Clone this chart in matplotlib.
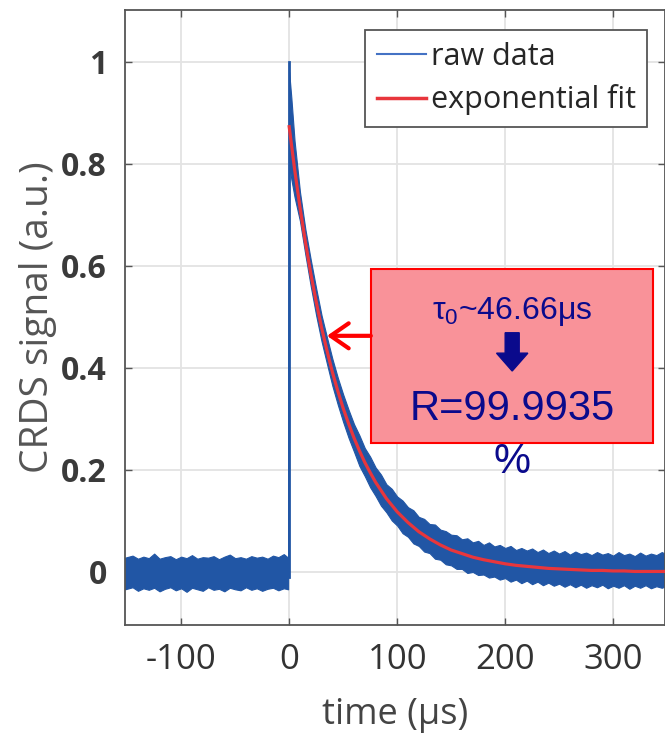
import matplotlib.pyplot as plt
from matplotlib.lines import Line2D
from matplotlib.patches import Rectangle, FancyArrow

# raw signal drawn as its noise envelope
t_base = [-152, -145, -140, -135, -130, -125, -120, -115, -110, -105, -100,
          -95, -90, -85, -80, -75, -70, -65, -60, -55, -50, -45, -40, -35,
          -30, -25, -20, -15, -10, -5, -1]
base_hi = [0.028, 0.032, 0.026, 0.030, 0.027, 0.036, 0.026, 0.029, 0.031, 0.025,
           0.030, 0.027, 0.033, 0.026, 0.029, 0.028, 0.031, 0.025, 0.030, 0.034,
           0.027, 0.029, 0.026, 0.031, 0.028, 0.030, 0.026, 0.032, 0.029, 0.035,
           0.028]
base_lo = [-0.034, -0.030, -0.037, -0.032, -0.035, -0.031, -0.038, -0.033, -0.030,
           -0.036, -0.032, -0.039, -0.031, -0.034, -0.037, -0.030, -0.035, -0.033,
           -0.038, -0.031, -0.034, -0.036, -0.030, -0.035, -0.032, -0.037, -0.033,
           -0.031, -0.036, -0.032, -0.034]

t_decay = [0, 2, 5] + list(range(10, 351, 5))
decay_hi = [0.98, 0.93, 0.845,
            0.745, 0.672, 0.612, 0.556, 0.503, 0.460, 0.418, 0.381, 0.348, 0.318,
            0.290, 0.268, 0.243, 0.226, 0.205, 0.191, 0.172, 0.163, 0.148,
            0.140, 0.127, 0.121, 0.108, 0.104, 0.094, 0.093, 0.083, 0.080, 0.073,
            0.072, 0.064, 0.066, 0.058, 0.061, 0.053, 0.058, 0.050, 0.053, 0.047,
            0.051, 0.043, 0.047, 0.042, 0.046, 0.039, 0.044, 0.037, 0.042, 0.036,
            0.041, 0.034, 0.040, 0.035, 0.038, 0.033, 0.039, 0.034, 0.037, 0.032,
            0.039, 0.033, 0.036, 0.031, 0.038, 0.032, 0.036, 0.033, 0.039, 0.034]
decay_lo = [0.80, 0.77, 0.735,
            0.688, 0.622, 0.560, 0.503, 0.452, 0.408, 0.365, 0.328, 0.294, 0.263,
            0.236, 0.208, 0.188, 0.166, 0.149, 0.130, 0.117, 0.101, 0.091,
            0.076, 0.069, 0.056, 0.051, 0.040, 0.037, 0.026, 0.024, 0.015, 0.013,
            0.006, 0.006, -0.002, 0.000, -0.006, -0.005, -0.011, -0.009, -0.015, -0.012,
            -0.019, -0.015, -0.022, -0.017, -0.024, -0.019, -0.026, -0.021, -0.027, -0.023,
            -0.029, -0.024, -0.030, -0.025, -0.031, -0.026, -0.030, -0.025, -0.032, -0.027,
            -0.031, -0.026, -0.033, -0.027, -0.031, -0.026, -0.032, -0.028, -0.031, -0.027]

spike_t = [0, 0]
spike_y = [-0.01, 1.0]

# exponential fit
t_fit = [0, 5, 10, 15, 20, 25, 30, 35, 40, 45, 50, 55, 60, 65, 70, 75, 80, 85, 90,
         95, 100, 110, 120, 130, 140, 150, 160, 170, 180, 190, 200, 210, 220, 230,
         240, 250, 260, 270, 280, 290, 300, 310, 320, 330, 340, 350]
fit_y = [0.873, 0.790, 0.715, 0.647, 0.585, 0.530, 0.479, 0.434, 0.392, 0.355,
         0.321, 0.291, 0.263, 0.238, 0.215, 0.195, 0.176, 0.160, 0.144, 0.131, 0.118,
         0.097, 0.079, 0.065, 0.053, 0.043, 0.036, 0.029, 0.024, 0.020, 0.016, 0.013,
         0.011, 0.009, 0.007, 0.006, 0.005, 0.004, 0.003, 0.003, 0.002, 0.002, 0.001,
         0.001, 0.001, 0.001]

x_ticks = [-100, 0, 100, 200, 300]
y_ticks = [0, 0.2, 0.4, 0.6, 0.8, 1]
y_labels = ["0", "0.2", "0.4", "0.6", "0.8", "1"]

BLUE = "#2156a5"
RED = "#e8363c"
NAVY = "#0a0a8c"

plt.rcParams["mathtext.fontset"] = "custom"
plt.rcParams["mathtext.rm"] = "Liberation Sans"

fig = plt.figure(figsize=(6.65, 7.34), dpi=100)
ax = fig.add_axes([0.188, 0.1485, 0.812, 0.838])

t_raw = t_base + t_decay
hi_raw = base_hi + decay_hi
lo_raw = base_lo + decay_lo
ax.fill_between(t_raw, lo_raw, hi_raw, color=BLUE, linewidth=0.8, zorder=2)
ax.plot(spike_t, spike_y, color=BLUE, linewidth=2.0, zorder=2)
ax.plot(t_fit, fit_y, color=RED, linewidth=2.3, zorder=3)

ax.set_xlim(-152, 348)
ax.set_ylim(-0.104, 1.102)
ax.set_xticks(x_ticks)
ax.set_xticklabels([str(v) for v in x_ticks], fontfamily="Open Sans",
                   fontsize=25, color="#333333")
ax.set_yticks(y_ticks)
ax.set_yticklabels(y_labels, fontfamily="Open Sans",
                   fontsize=23, fontweight="bold", color="#3a3a3a")
ax.tick_params(direction="in", length=5, width=1, color="#555555",
               top=True, right=True)
ax.tick_params(axis="y", pad=13)
ax.tick_params(axis="x", pad=13)
ax.grid(True, color="#e3e3e3", linewidth=1.3, zorder=0)
ax.set_axisbelow(True)
for s in ax.spines.values():
    s.set_color("#555555")
    s.set_linewidth(1.3)

ax.set_xlabel("time (µs)", fontfamily="Open Sans", fontsize=26,
              color="#444444", labelpad=14)
ax.set_ylabel("CRDS signal (a.u.)", fontfamily="Open Sans", fontsize=28,
              color="#555555", labelpad=3)

handles = [Line2D([], [], color="#4472c4", linewidth=1.5),
           Line2D([], [], color=RED, linewidth=2.5)]
leg = ax.legend(handles, ["raw data", "exponential fit"], loc="upper right",
                bbox_to_anchor=(0.967, 0.9675), prop={"family": "Open Sans", "size": 22},
                fancybox=False, framealpha=1, edgecolor="#555555",
                handlelength=1.6, handletextpad=0.16, borderpad=0.38,
                labelspacing=0.42, borderaxespad=0)
leg.get_frame().set_linewidth(1.3)
for txt in leg.get_texts():
    txt.set_color("#262626")

# annotation box
ax.add_patch(Rectangle((75.6, 0.252), 337.3 - 75.6, 0.594 - 0.252,
                       facecolor="#f99299", edgecolor="#ff0000", linewidth=1.5,
                       zorder=4))
ax.text(206.5, 0.510, r"$\mathregular{τ_0}$~46.66μs", fontfamily="Liberation Sans",
        fontsize=23, color=NAVY, ha="center", va="center", zorder=5)
ax.add_patch(FancyArrow(206.5, 0.469, 0, -0.075, width=13, head_width=29,
                        head_length=0.035, length_includes_head=True,
                        color=NAVY, zorder=5))
ax.text(206.5, 0.320, "R=99.9935", fontfamily="Liberation Sans", fontsize=30,
        color=NAVY, ha="center", va="center", zorder=5)
ax.text(206.5, 0.216, "%", fontfamily="Liberation Sans", fontsize=30,
        color=NAVY, ha="center", va="center", zorder=5)
ax.annotate("", xy=(35.0, 0.463), xytext=(75.6, 0.463),
            arrowprops=dict(arrowstyle="->,head_length=0.65,head_width=0.45",
                            color="#ff0000", linewidth=3, mutation_scale=20,
                            shrinkA=0, shrinkB=0), zorder=5)

fig.savefig("out.png", dpi=100)
